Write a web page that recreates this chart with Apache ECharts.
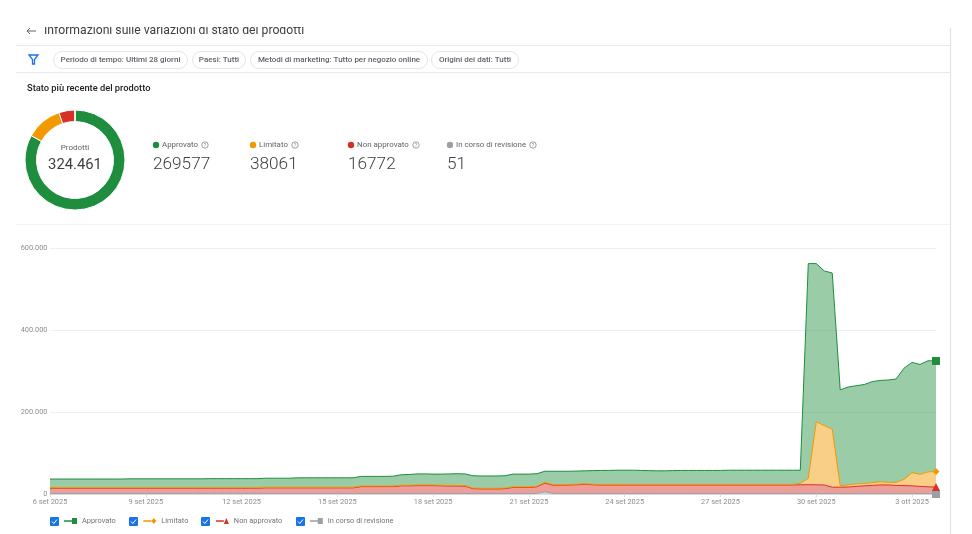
<!DOCTYPE html>
<html><head><meta charset="utf-8">
<style>html,body{margin:0;padding:0;background:#fff}#c{width:972px;height:534px}</style>
<script src="https://cdn.jsdelivr.net/npm/echarts@6/dist/echarts.min.js"></script>
</head><body><div id="c"></div>
<script>
const pageTitle = 'Informazioni sulle variazioni di stato dei prodotti';
const filterChips = ['Periodo di tempo: Ultimi 28 giorni','Paesi: Tutti','Metodi di marketing: Tutto per negozio online','Origini dei dati: Tutti'];
const statusNames = ['Approvato','Limitato','Non approvato','In corso di revisione'];
const statusLatest = [269577,38061,16772,51];
const statusColors = ['#1e8e3e','#f29900','#d93025','#9aa0a6'];
const totalLabel = '324.461';
const dayLabels = ['6 set 2025','7 set 2025','8 set 2025','9 set 2025','10 set 2025','11 set 2025','12 set 2025','13 set 2025','14 set 2025','15 set 2025','16 set 2025','17 set 2025','18 set 2025','19 set 2025','20 set 2025','21 set 2025','22 set 2025','23 set 2025','24 set 2025','25 set 2025','26 set 2025','27 set 2025','28 set 2025','29 set 2025','30 set 2025','1 ott 2025','2 ott 2025','3 ott 2025'];
// four readings per day
const categories = dayLabels.flatMap(d => [d,d,d,d]);
const approvato = [
21000,21000,21000,21000,21000,21000,21000,21000,21000,21000,
21500,21500,21500,21500,21500,21500,21500,21500,21500,21500,
22000,22000,22000,22000,22000,22000,22000,22000,22000,22000,22000,
23000,23000,23000,23000,23000,23000,23000,23000,
23500,23500,23500,23500,24000,25500,26000,
27000,27000,26500,27000,28000,28500,28500,
30000,30000,30000,30000,30000,31000,31000,31000,30500,27000,
32500,32500,32000,32000,31500,33000,34000,34000,34500,34500,34500,34000,33500,33000,33000,33500,34000,34000,
34000,34000,34000,34000,34500,34500,34500,34500,34500,34500,34500,34500,34500,32000,
524000,386000,377000,381000,234000,239000,239500,241400,246500,247000,249500,252500,271000,269000,268000,271000,269577];
const limitato = [
1500,1500,1500,1500,1500,1500,1500,1500,1500,1500,1500,1500,1500,1500,1500,1500,1500,1500,1500,1500,
1500,1500,1500,1500,1500,1500,1500,1500,1500,1500,1500,1500,1500,1500,1500,1500,1500,1500,1500,1500,
1500,1500,1500,1500,1500,1500,1500,1500,1500,1500,1500,1500,1500,1500,1500,1500,1500,1500,1500,1500,
1500,1500,2000,1500,1500,1500,1500,1500,1500,1500,1500,1500,1500,1500,1500,1500,1500,1500,1500,1500,
1500,1500,1500,1500,1500,1500,1500,1500,1500,1500,1500,1500,1500,1500,
3500,15300,153500,145000,141500,3500,5000,6000,5600,6500,8000,6500,7000,15500,32000,29500,36500,38061];
const nonApprovato = [
13000,13000,13000,13000,13000,13000,13000,13000,13000,13000,13000,13000,13000,13000,13000,13000,13000,13000,13000,13000,
13000,13000,13000,13000,13000,13000,13000,
14000,14000,14000,14000,14000,14000,14000,14000,14000,14000,14000,14000,
17000,17000,17000,17000,17000,19000,19000,
19500,19500,19500,19000,18500,18500,18000,
12000,11500,11500,11500,12000,15000,15000,15000,16000,21000,20000,
20500,21000,21500,22500,21500,
21000,21000,21000,21000,21000,21000,21000,21000,21000,21000,21000,21000,21000,21000,21000,21000,21000,21000,21000,21000,21000,21000,21000,21000,21000,
21500,21700,21500,21000,15500,15700,16200,17700,19200,20200,21200,21200,20200,19700,19200,17700,16700,16772];
const inRevisione = [
1000,1000,1000,1000,1000,1000,1000,1000,1000,1000,1000,1000,1000,1000,1000,1000,1000,1000,1000,1000,
1000,1000,1000,1000,1000,1000,1000,1000,1000,1000,1000,1000,1000,1000,1000,1000,1000,1000,1000,1000,
1000,1000,1000,1000,1000,1000,1000,1000,1000,1000,1000,1000,1000,1000,1000,1000,1000,1000,1000,1000,
1000,1500,5500,1500,1000,1000,1000,1000,1000,1000,1000,1000,1000,1000,1000,1000,1000,1000,1000,1000,
1000,1000,1000,1000,1000,1000,1000,1000,1000,1000,1000,1000,1000,1000,1000,1000,1000,1000,1000,
800,800,800,800,800,800,800,800,800,800,800,800,51];
const FONT = 'Roboto, sans-serif';
const last = categories.length - 1;

function txt(x, y, text, size, fill, extra) {
  return {type:'text', x, y, silent:true, z:10, style:Object.assign({text, fontSize:size, fill, fontFamily:FONT, textVerticalAlign:'middle'}, extra||{})};
}
function line(x1,y1,x2,y2,color,w) {
  return {type:'line', silent:true, z:5, shape:{x1,y1,x2,y2}, style:{stroke:color||'#e8eaed', lineWidth:w||1}};
}
const g = [];
// header, clipped at the top like the reference
g.push(txt(44,31,pageTitle,12.2,'#3c4043',{letterSpacing:0.12}));
g.push({type:'rect', z:11, silent:true, shape:{x:0,y:0,width:972,height:27}, style:{fill:'#fff'}});
g.push({type:'polyline', z:10, silent:true, shape:{points:[[36,31],[27,31]]}, style:{stroke:'#5f6368',lineWidth:1,fill:null}});
g.push({type:'polyline', z:10, silent:true, shape:{points:[[30,28],[27,31],[30,34]]}, style:{stroke:'#5f6368',lineWidth:1,fill:null}});
g.push(line(16,45.5,950,45.5));
g.push(line(16,72.5,950,72.5));
g.push(line(16,224.5,950,224.5,'#f1f2f3'));
g.push(line(950.5,28,950.5,534,'#e3e3e3',1.2));
// funnel icon
g.push({type:'polygon', z:10, silent:true, shape:{points:[[29,55],[38,55],[34.5,59.5],[34.5,64],[32.5,64],[32.5,59.5]]}, style:{stroke:'#1a73e8',lineWidth:1.3,fill:'#fff'}});
// filter chips
const chipBoxes = [[53,134],[192,53],[250,177],[431,87]];
filterChips.forEach((t,i)=>{
  const [x,w] = chipBoxes[i];
  g.push({type:'rect', z:6, silent:true, shape:{x:x+.5,y:51.5,width:w,height:17,r:8.5}, style:{fill:'#fff',stroke:'#e3e5e8',lineWidth:1}});
  g.push(txt(x+w/2+.5,60,t,8,'#5f6368',{textAlign:'center',fontWeight:500}));
});
g.push(txt(27,88.5,'Stato più recente del prodotto',9.3,'#202124',{fontWeight:500}));
// donut centre
g.push(txt(75,148,'Prodotti',8,'#5f6368',{textAlign:'center'}));
g.push(txt(75,165.5,totalLabel,14.8,'#3c4043',{textAlign:'center'}));
// KPI row
const kpiX = [153,250,348,447];
const helpX = [205,295,416,533];
statusNames.forEach((n,i)=>{
  const x = kpiX[i];
  g.push({type:'circle', z:10, silent:true, shape:{cx:x+3,cy:145,r:3.2}, style:{fill:statusColors[i]}});
  g.push(txt(x+9,145,n,7.9,'#5f6368',{letterSpacing:0.05}));
  g.push({type:'circle', z:10, silent:true, shape:{cx:helpX[i],cy:145,r:3.2}, style:{fill:'#fff',stroke:'#80868b',lineWidth:.8}});
  g.push(txt(helpX[i],145.3,'?',5,'#80868b',{textAlign:'center'}));
  g.push(txt(x,164.5,String(statusLatest[i]),17.2,'#3c4043',{fontWeight:300}));
});
// legend check boxes
[50,129,201,296].forEach(x=>{
  g.push({type:'rect', z:10, silent:true, shape:{x,y:517,width:9,height:9,r:1}, style:{fill:'#1a73e8'}});
  g.push({type:'polyline', z:11, silent:true, shape:{points:[[x+2,521.5],[x+3.8,523.5],[x+7,519.5]]}, style:{stroke:'#fff',lineWidth:1,fill:null}});
});

const symbols = ['rect','diamond','triangle','rect'];
const sizes = [8,7,8,8];
const legendIcons = [
  'path://M0 3.2H8V4.8H0Z M8 1H13V7H8Z',
  'path://M0 3.2H8V4.8H0Z M10.5 1L13 4L10.5 7L8 4Z',
  'path://M0 3.2H8V4.8H0Z M10.5 1L13 7H8Z',
  'path://M0 3.2H8V4.8H0Z M8 1H13V7H8Z'
];
const datasets = [approvato,limitato,nonApprovato,inRevisione];
function area(i) {
  return {
    name:statusNames[i], type:'line', stack:'stato', data:datasets[i],
    symbol:symbols[i], showSymbol:true, showAllSymbol:true,
    symbolSize:(v,p)=>p.dataIndex===last?sizes[i]:0,
    lineStyle:{color:statusColors[i],width:1},
    itemStyle:{color:statusColors[i]},
    areaStyle:{color:statusColors[i],opacity:i===0?.45:.47},
    emphasis:{disabled:true}, silent:true, animation:false
  };
}
const option = {
  animation:false, backgroundColor:'#fff',
  textStyle:{fontFamily:FONT},
  grid:{left:50,right:36,top:248,bottom:40,containLabel:false},
  legend:{
    left:59, top:512.5, itemWidth:13, itemHeight:7, itemGap:27.5, selectedMode:false,
    data:statusNames.map((name,i)=>({name,icon:legendIcons[i]})),
    textStyle:{fontSize:7.4,color:'#6f7479',fontFamily:FONT}
  },
  xAxis:{
    type:'category', boundaryGap:false, data:categories,
    axisLine:{lineStyle:{color:'#dadce0',width:1}},
    axisTick:{alignWithLabel:true,interval:11,length:3,lineStyle:{color:'#dadce0'}},
    axisLabel:{interval:11,fontSize:7.4,color:'#8a8f94',margin:5},
    splitLine:{show:false}
  },
  yAxis:{
    type:'value', min:0, max:600000, interval:200000,
    axisLine:{show:false}, axisTick:{show:false},
    axisLabel:{fontSize:7.4,color:'#8a8f94',margin:2.5,formatter:v=>v===0?'0':v.toLocaleString('de-DE')},
    splitLine:{lineStyle:{color:'#eeeff1',width:1}}
  },
  series:[
    area(3),area(2),area(1),area(0),
    {type:'pie', center:[75,160], radius:[38.5,50], startAngle:90, clockwise:true, silent:true, animation:false,
     label:{show:false}, labelLine:{show:false}, emphasis:{disabled:true},
     itemStyle:{borderColor:'#fff',borderWidth:1},
     data:statusNames.map((n,i)=>({name:'torta '+n,value:statusLatest[i],itemStyle:{color:statusColors[i]}}))}
  ],
  graphic:{elements:g}
};
const chart = echarts.init(document.getElementById('c'),null,{renderer:'canvas'});
chart.setOption(option);
</script></body></html>
